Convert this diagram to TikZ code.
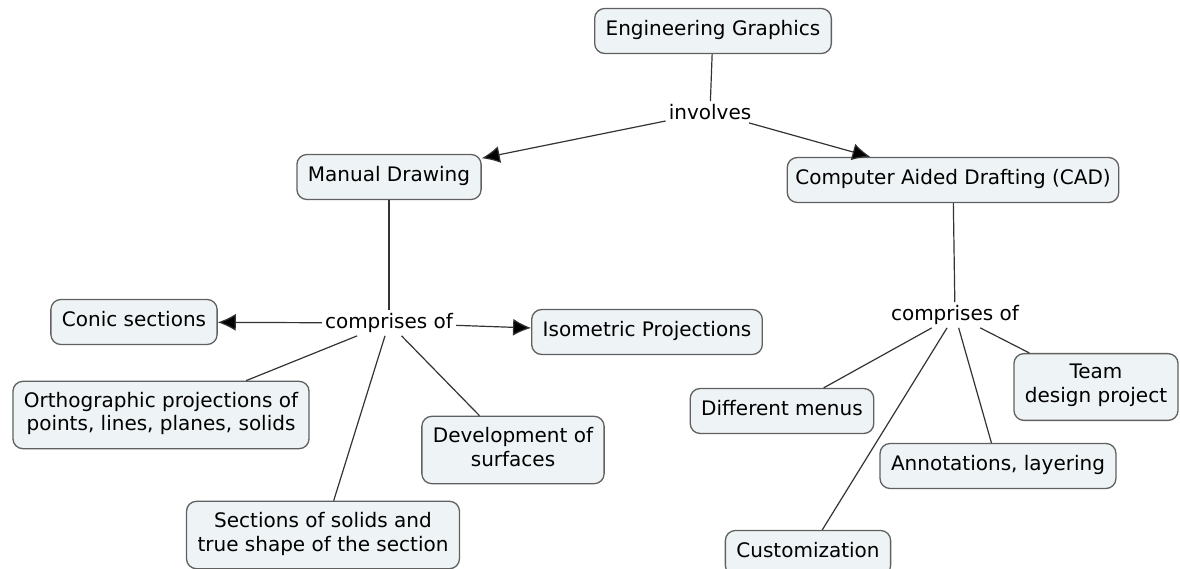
\documentclass[tikz,border=0pt]{standalone}
\usepackage{fontspec}
\setmainfont{DejaVu Sans}
\usetikzlibrary{arrows.meta}
\definecolor{conceptfill}{HTML}{EEF3F5}
\definecolor{conceptline}{HTML}{606060}
\definecolor{linkline}{HTML}{333333}

\begin{document}
\begin{tikzpicture}[x=1pt, y=-1pt,
    concept/.style={draw=conceptline, fill=conceptfill, line width=1.3pt, rounded corners=10pt,
        align=center, inner xsep=11pt, inner ysep=10.5pt, font=\fontsize{20}{24}\selectfont,
        execute at begin node=\strut, execute at end node=\strut},
    linker/.style={inner sep=3pt, font=\fontsize{20}{24}\selectfont},
    link/.style={draw=linkline, line width=1.2pt},
    linkto/.style={link, -{Latex[length=18pt, width=17pt, fill=black]}}]
    \useasboundingbox (0,0) rectangle (1180,569);

    \node[concept] (eg) at (713,31) {Engineering Graphics};
    \node[linker] (involves) at (710,112) {involves};
    \node[concept] (manual) at (389,177) {Manual Drawing};
    \node[concept, inner xsep=8pt] (cad) at (953,180) {Computer Aided Drafting (CAD)};

    \begin{scope}
        \node[linker] (compL) at (389,323) {comprises of};
        \node[concept] (conic) at (134,322) {Conic sections};
        \node[concept] (iso) at (647,332) {Isometric Projections};
        \node[concept] (ortho) at (161,415) {Orthographic projections of\\points, lines, planes, solids};
        \node[concept] (devel) at (513,450) {Development of\\surfaces};
        \node[concept] (sect) at (323,535) {Sections of solids and\\true shape of the section};
    \end{scope}

    \begin{scope}
        \node[linker] (compR) at (955,315) {comprises of};
        \node[concept] (menus) at (782,411) {Different menus};
        \node[concept] (team) at (1096,387) {Team\\design project};
        \node[concept] (annot) at (998,466) {Annotations, layering};
        \node[concept] (custom) at (808,553) {Customization};
    \end{scope}

    \draw[link] (eg) -- (involves);
    \draw[linkto] (involves) -- (manual);
    \draw[linkto] (involves) -- (cad);

    \draw[link] (manual) -- (compL);
    \draw[linkto] (compL) -- (conic);
    \draw[linkto] (compL) -- (iso);
    \draw[link] (compL) -- (ortho);
    \draw[link] (compL) -- (devel);
    \draw[link] (compL) -- (sect);

    \draw[link] (cad) -- (compR);
    \draw[link] (compR) -- (menus);
    \draw[link] (compR) -- (team);
    \draw[link] (compR) -- (annot);
    \draw[link] (compR) -- (custom);
\end{tikzpicture}
\end{document}
